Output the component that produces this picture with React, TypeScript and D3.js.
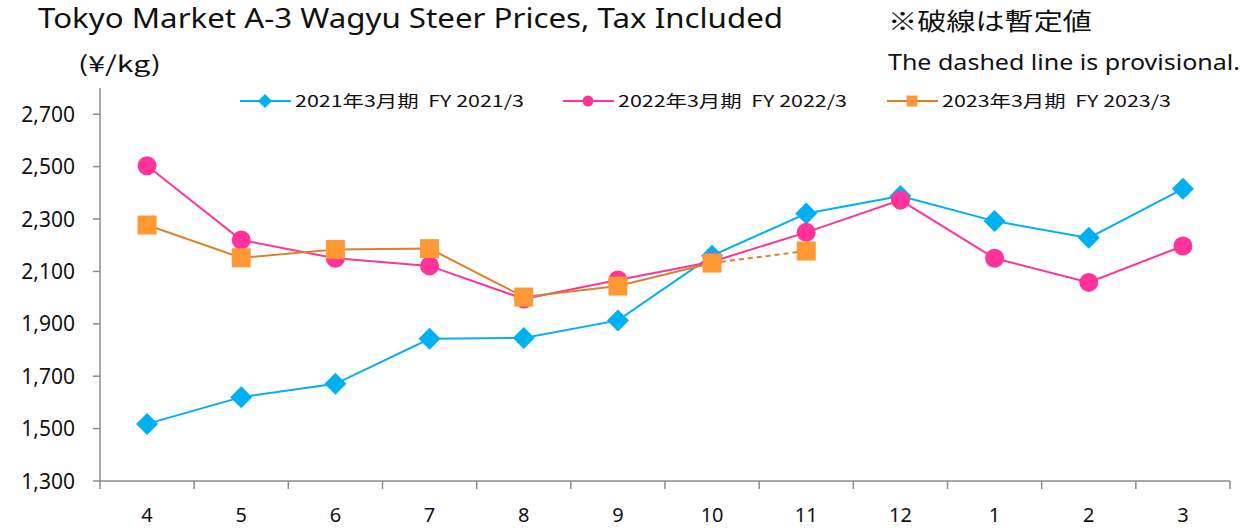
import React from "react";
import * as d3 from "d3";

const months = ["4", "5", "6", "7", "8", "9", "10", "11", "12", "1", "2", "3"];
const fy2021 = [1518, 1620, 1671, 1843, 1846, 1913, 2160, 2321, 2388, 2292, 2228, 2415];
const fy2022 = [2503, 2220, 2150, 2121, 1995, 2067, 2137, 2249, 2372, 2150, 2058, 2197];
const fy2023 = [2277, 2152, 2184, 2187, 2002, 2044, 2132, 2178];
const fy2023ProvisionalFrom = 6; // index where the dashed (provisional) segment starts
const yTicks = [1300, 1500, 1700, 1900, 2100, 2300, 2500, 2700];

const FONT = "'Noto Sans CJK JP', 'Noto Sans', sans-serif";
const LATIN = "'Noto Sans', 'DejaVu Sans', sans-serif";
const BLUE = "#00B0F0";
const PINK = "#FF3399";
const ORANGE_LINE = "#D9822B";
const ORANGE_MARK = "#FF9933";
const AXIS = "#8C8C8C";

function Diamond({ x, y, r }: { x: number; y: number; r: number }) {
  return <path d={`M${x},${y - r}L${x + r},${y}L${x},${y + r}L${x - r},${y}Z`} fill={BLUE} />;
}
function Circle({ x, y, r }: { x: number; y: number; r: number }) {
  return <circle cx={x} cy={y} r={r} fill={PINK} />;
}
function Square({ x, y, r }: { x: number; y: number; r: number }) {
  return <rect x={x - r} y={y - r} width={2 * r} height={2 * r} fill={ORANGE_MARK} />;
}

export default function App() {
  const W = 1243;
  const H = 528;
  const left = 100;
  const right = 1230;
  const top = 88;
  const bottom = 481;

  const x = d3.scaleBand<string>().domain(months).range([left, right]).paddingInner(0).paddingOuter(0);
  const y = d3.scaleLinear().domain([1300, 2800]).range([bottom, top]);
  const cx = (i: number) => (x(months[i]) as number) + x.bandwidth() / 2;

  const line = d3
    .line<number>()
    .x((_, i) => cx(i))
    .y((d) => y(d));

  const solid2023 = fy2023.slice(0, fy2023ProvisionalFrom + 1);
  const dashed2023 = fy2023.slice(fy2023ProvisionalFrom);
  const dashedLine = d3
    .line<number>()
    .x((_, i) => cx(i + fy2023ProvisionalFrom))
    .y((d) => y(d));

  const xTickPositions = months.map((m) => x(m) as number).concat([right]);

  const legendItems = [
    { label: "2021年3月期  FY 2021/3", color: BLUE, x0: 240, marker: "d" },
    { label: "2022年3月期  FY 2022/3", color: PINK, x0: 563, marker: "c" },
    { label: "2023年3月期  FY 2023/3", color: ORANGE_LINE, x0: 887, marker: "s" },
  ];
  const legendY = 101;

  return (
    <svg width={W} height={H} style={{ position: "absolute", left: 0, top: 0, background: "#fff" }} fontFamily={FONT}>
      <rect width={W} height={H} fill="#fff" />
      {/* Titles */}
      <text x={38} y={28} fontSize={27} fontFamily={LATIN} fill="#111" textLength={745} lengthAdjust="spacingAndGlyphs">
        Tokyo Market A-3 Wagyu Steer Prices, Tax Included
      </text>
      <text x={78} y={72} fontSize={22} fill="#111" textLength={83} lengthAdjust="spacingAndGlyphs">
        (¥/kg)
      </text>
      <text x={888} y={30} fontSize={24} fill="#111" textLength={204} lengthAdjust="spacingAndGlyphs">
        ※破線は暫定値
      </text>
      <text x={888} y={70} fontSize={21} fontFamily={LATIN} fill="#111" textLength={352} lengthAdjust="spacingAndGlyphs">
        The dashed line is provisional.
      </text>

      {/* Legend */}
      {legendItems.map((it) => (
        <g key={it.label}>
          <line x1={it.x0} x2={it.x0 + 51} y1={legendY} y2={legendY} stroke={it.color} strokeWidth={2} />
          {it.marker === "d" && <Diamond x={it.x0 + 25} y={legendY} r={7} />}
          {it.marker === "c" && <Circle x={it.x0 + 25} y={legendY} r={5.5} />}
          {it.marker === "s" && <Square x={it.x0 + 25} y={legendY} r={5.5} />}
          <text
            x={it.x0 + 55}
            y={legendY}
            dy="0.36em"
            fontSize={16}
            fill="#111"
            style={{ whiteSpace: "pre" }}
            textLength={229}
            lengthAdjust="spacingAndGlyphs"
          >
            {it.label}
          </text>
        </g>
      ))}

      {/* Axes */}
      <line x1={left} x2={left} y1={top} y2={bottom} stroke={AXIS} strokeWidth={1.5} />
      <line x1={left} x2={right} y1={bottom} y2={bottom} stroke={AXIS} strokeWidth={1.5} />
      {yTicks.map((t) => (
        <g key={t}>
          <line x1={left - 7} x2={left} y1={y(t)} y2={y(t)} stroke={AXIS} strokeWidth={1.5} />
          <text x={75} y={y(t)} dy="0.36em" textAnchor="end" fontSize={21} fontFamily={LATIN} fill="#111">
            {d3.format(",")(t)}
          </text>
        </g>
      ))}
      {xTickPositions.map((p, i) => (
        <line key={i} x1={p} x2={p} y1={bottom} y2={bottom + 8} stroke={AXIS} strokeWidth={1.5} />
      ))}
      {months.map((m, i) => (
        <text key={m} x={cx(i)} y={522} textAnchor="middle" fontSize={20} fontFamily={LATIN} fill="#111">
          {m}
        </text>
      ))}

      {/* Series lines */}
      <path d={line(fy2021) ?? ""} fill="none" stroke={BLUE} strokeWidth={2} />
      <path d={line(fy2022) ?? ""} fill="none" stroke={PINK} strokeWidth={2} />
      <path d={line(solid2023) ?? ""} fill="none" stroke={ORANGE_LINE} strokeWidth={2} />
      <path d={dashedLine(dashed2023) ?? ""} fill="none" stroke={ORANGE_LINE} strokeWidth={2} strokeDasharray="5,4" />

      {/* Markers */}
      {fy2021.map((v, i) => (
        <Diamond key={"b" + i} x={cx(i)} y={y(v)} r={11} />
      ))}
      {fy2022.map((v, i) => (
        <Circle key={"p" + i} x={cx(i)} y={y(v)} r={9.5} />
      ))}
      {fy2023.map((v, i) => (
        <Square key={"o" + i} x={cx(i)} y={y(v)} r={9.5} />
      ))}
    </svg>
  );
}
